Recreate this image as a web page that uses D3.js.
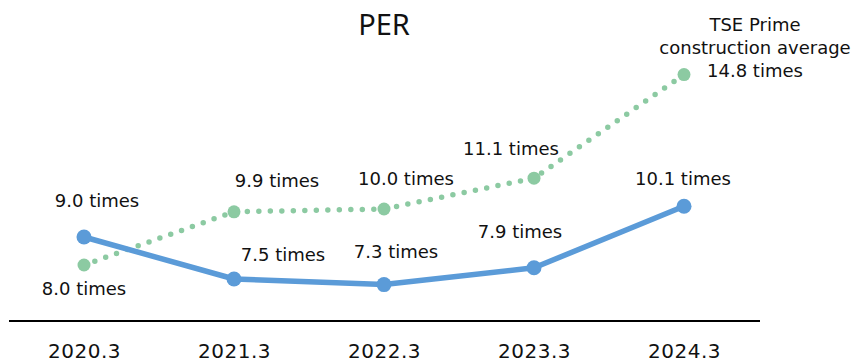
<!DOCTYPE html>
<html>
<head>
<meta charset="utf-8">
<script src="https://cdn.jsdelivr.net/npm/d3@7"></script>
<style>
  html, body { margin: 0; padding: 0; background: #fff; }
  svg { display: block; font-family: "DejaVu Sans", Verdana, sans-serif; }
</style>
</head>
<body>
<svg id="chart" width="854" height="363"></svg>
<script>
// Fiscal years on the x axis
const categories = ["2020.3", "2021.3", "2022.3", "2023.3", "2024.3"];
// Company PER (times)
const companyPER = [9.0, 7.5, 7.3, 7.9, 10.1];
// TSE Prime construction sector average PER (times)
const sectorPER = [8.0, 9.9, 10.0, 11.1, 14.8];
const sectorName = ["TSE Prime", "construction average"];
const unit = " times";

// Label placement relative to each point (dx, dy to text baseline)
const companyLabelOffset = [[13, -30], [49, -18], [12, -27], [-14, -30], [-1, -21]];
const sectorLabelOffset = [[0, 30], [43, -25], [22, -24], [-23, -23], [71, 2]];

const svg = d3.select("#chart");

const x = d3.scalePoint().domain(categories).range([9, 759]).padding(0.5);
const y = d3.scaleLinear().domain([6, 16]).range([321, 41]);

// Title
svg.append("text")
  .attr("x", 384).attr("y", 35)
  .attr("text-anchor", "middle")
  .attr("font-family", "'Noto Sans', 'Open Sans', sans-serif")
  .attr("font-size", 29)
  .attr("fill", "#111")
  .text("PER");

// Baseline axis with category labels
const axis = svg.append("g").attr("transform", `translate(0,${y(6)})`)
  .call(d3.axisBottom(x).tickSize(0).tickPadding(0));
axis.select(".domain").attr("stroke", "#000").attr("stroke-width", 2)
  .attr("d", `M${x.range()[0]},0H${x.range()[1] + 1}`);
axis.selectAll(".tick text")
  .attr("y", 37).attr("dy", 0)
  .attr("font-family", "'DejaVu Sans', Verdana, sans-serif")
  .attr("font-size", 20)
  .attr("letter-spacing", 0.5)
  .attr("fill", "#111");

const line = d3.line().x((d, i) => x(categories[i])).y(d => y(d));

// Sector average: dotted green line
const green = "#8ccaa2";
svg.append("path")
  .datum(sectorPER)
  .attr("d", line)
  .attr("fill", "none")
  .attr("stroke", green)
  .attr("stroke-width", 5.5)
  .attr("stroke-linecap", "round")
  .attr("stroke-dasharray", "0 11.5");
svg.append("g").selectAll("circle")
  .data(sectorPER).join("circle")
  .attr("cx", (d, i) => x(categories[i]))
  .attr("cy", d => y(d))
  .attr("r", 6.5)
  .attr("fill", green);

// Company: solid blue line
const blue = "#5b9bd8";
svg.append("path")
  .datum(companyPER)
  .attr("d", line)
  .attr("fill", "none")
  .attr("stroke", blue)
  .attr("stroke-width", 5.5)
  .attr("stroke-linejoin", "round");
svg.append("g").selectAll("circle")
  .data(companyPER).join("circle")
  .attr("cx", (d, i) => x(categories[i]))
  .attr("cy", d => y(d))
  .attr("r", 7.5)
  .attr("fill", blue);

// Value labels
const labelFont = { size: 18 };
function addLabels(values, offsets) {
  svg.append("g").selectAll("text")
    .data(values).join("text")
    .attr("x", (d, i) => x(categories[i]) + offsets[i][0])
    .attr("y", (d, i) => y(d) + offsets[i][1])
    .attr("text-anchor", "middle")
    .attr("font-size", labelFont.size)
    .attr("fill", "#111")
    .text(d => d.toFixed(1) + unit);
}
addLabels(companyPER, companyLabelOffset);
addLabels(sectorPER, sectorLabelOffset);

// Series name above the last sector value
const last = sectorPER.length - 1;
const nameX = x(categories[last]) + sectorLabelOffset[last][0];
const nameY = y(sectorPER[last]) + sectorLabelOffset[last][1];
sectorName.forEach((t, k) => {
  svg.append("text")
    .attr("x", nameX)
    .attr("y", nameY - (sectorName.length - k) * 23)
    .attr("text-anchor", "middle")
    .attr("font-size", labelFont.size)
    .attr("fill", "#111")
    .text(t);
});
</script>
</body>
</html>
